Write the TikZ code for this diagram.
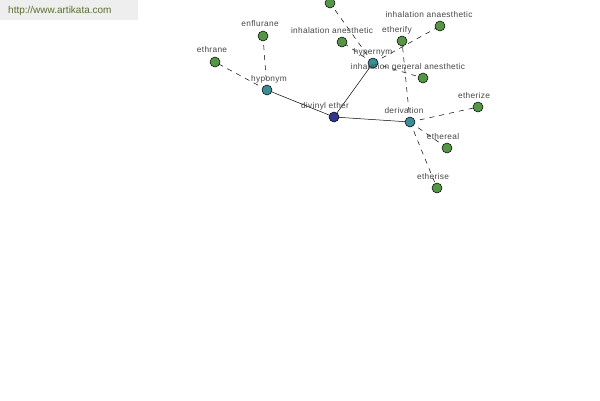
\documentclass[tikz,border=0pt]{standalone}
\usepackage{fontspec}
\setmainfont{Liberation Sans}
\newfontfamily\labfont[LetterSpace=4]{Liberation Sans}
\begin{document}
\begin{tikzpicture}[x=1pt,y=-1pt,
  dot/.style={circle,draw=black,line width=0.5pt,minimum size=10pt,inner sep=0pt},
  leaf/.style={dot,fill=leafc},
  rel/.style={dot,fill=relc},
  root/.style={dot,fill=rootc},
  lab/.style={text=labc,font=\labfont\fontsize{8.3}{9}\selectfont,inner sep=0pt},
  solidedge/.style={draw=black,line width=0.5pt},
  dashedge/.style={draw=black,line width=0.5pt,dash pattern=on 5pt off 5pt}]
\definecolor{leafc}{RGB}{84,150,70}
\definecolor{relc}{RGB}{60,140,150}
\definecolor{rootc}{RGB}{50,55,140}
\definecolor{labc}{RGB}{70,70,70}
\definecolor{wmbg}{RGB}{238,238,238}
\definecolor{wmtext}{RGB}{90,110,50}
\useasboundingbox (0,0) rectangle (600,400);
\fill[white] (0,0) rectangle (600,400);
\fill[wmbg] (0,0) rectangle (138,20);
\node[anchor=west,text=wmtext,font=\fontsize{10}{11}\selectfont,inner sep=0pt] (wm) at (8,11) {http://www.artikata.com};
% node coordinates
\coordinate (pdiv) at (334,117);
\coordinate (phypo) at (267,90);
\coordinate (phyper) at (373,63);
\coordinate (pderiv) at (410,122);
\coordinate (peth) at (215,62);
\coordinate (penf) at (263,36);
\coordinate (pinh) at (342,42);
\coordinate (ptop) at (330,3);
\coordinate (petf) at (402,41);
\coordinate (pina) at (440,26);
\coordinate (pigen) at (423,78);
\coordinate (petz) at (478,107);
\coordinate (pethl) at (447,148);
\coordinate (pets) at (437,188);
% edges
\draw[solidedge] (pdiv) -- (phypo);
\draw[solidedge] (pdiv) -- (phyper);
\draw[solidedge] (pdiv) -- (pderiv);
\draw[dashedge] (phypo) -- (peth);
\draw[dashedge] (phypo) -- (penf);
\draw[dashedge] (phyper) -- (pinh);
\draw[dashedge] (phyper) -- (ptop);
\draw[dashedge] (phyper) -- (pina);
\draw[dashedge] (phyper) -- (pigen);
\draw[dashedge] (pderiv) -- (petf);
\draw[dashedge] (pderiv) -- (petz);
\draw[dashedge] (pderiv) -- (pethl);
\draw[dashedge] (pderiv) -- (pets);
% nodes
\node[root] (div) at (pdiv) {};
\node[rel] (hypo) at (phypo) {};
\node[rel] (hyper) at (phyper) {};
\node[rel] (deriv) at (pderiv) {};
\node[leaf] (eth) at (peth) {};
\node[leaf] (enf) at (penf) {};
\node[leaf] (inh) at (pinh) {};
\node[leaf] (top) at (ptop) {};
\node[leaf] (etf) at (petf) {};
\node[leaf] (ina) at (pina) {};
\node[leaf] (igen) at (pigen) {};
\node[leaf] (etz) at (petz) {};
\node[leaf] (ethl) at (pethl) {};
\node[leaf] (ets) at (pets) {};
% labels
\node[lab] (ldiv) at (325,106) {divinyl ether};
\node[lab] (lhypo) at (269,79) {hyponym};
\node[lab] (lhyper) at (373,52) {hypernym};
\node[lab] (lderiv) at (404,111) {derivation};
\node[lab] (leth) at (212,50) {ethrane};
\node[lab] (lenf) at (260,24) {enflurane};
\node[lab] (linh) at (332,31) {inhalation anesthetic};
\node[lab] (letf) at (397,30) {etherify};
\node[lab] (lina) at (429,15) {inhalation anaesthetic};
\node[lab] (ligen) at (408,67) {inhalation general anesthetic};
\node[lab] (letz) at (474,96) {etherize};
\node[lab] (lethl) at (443,137) {ethereal};
\node[lab] (lets) at (433,177) {etherise};
\end{tikzpicture}
\end{document}
